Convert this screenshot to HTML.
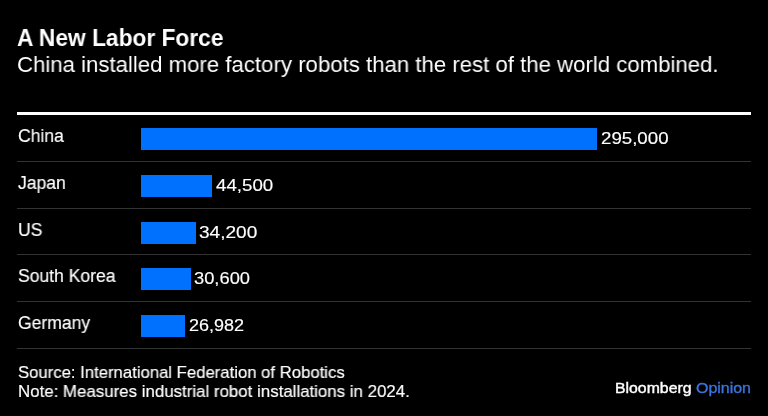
<!DOCTYPE html>
<html><head><meta charset="utf-8">
<style>
html,body{margin:0;padding:0;background:#000;}
body{width:768px;height:416px;position:relative;overflow:hidden;font-family:"Liberation Sans",sans-serif;color:#fff;}
.t{position:absolute;white-space:nowrap;line-height:1;transform-origin:0 0;will-change:transform;}
.topline{position:absolute;left:17px;width:734px;top:112px;height:3px;background:#fff;}
.sep{position:absolute;left:17px;width:734px;height:1px;background:#333;}
.bar{position:absolute;left:141px;height:22px;background:#0071ff;}
.lab{left:18px;font-size:18px;transform:scaleX(0.975);-webkit-text-stroke:0.15px #fff;}
.val{font-size:17px;-webkit-text-stroke:0.15px #fff;}
.src{left:18px;font-size:17px;-webkit-text-stroke:0.15px #fff;}
</style></head><body>
<div class="t" id="title" style="left:17px;top:26px;font-size:24px;font-weight:bold;transform:scaleX(0.948)">A New Labor Force</div>
<div class="t" id="sub" style="left:17px;top:53.6px;font-size:22.5px;transform:scaleX(0.986)">China installed more factory robots than the rest of the world combined.</div>
<div class="topline"></div>

<div class="t lab" id="l0" style="top:127px">China</div>
<div class="bar" style="top:128px;width:456px"></div>
<div class="t val" id="v0" style="left:601px;top:130px;transform:scaleX(1.099)">295,000</div>
<div class="sep" style="top:161px"></div>

<div class="t lab" id="l1" style="top:174px">Japan</div>
<div class="bar" style="top:175px;width:71px"></div>
<div class="t val" id="v1" style="left:216px;top:177px;transform:scaleX(1.10)">44,500</div>
<div class="sep" style="top:208px"></div>

<div class="t lab" id="l2" style="top:221px">US</div>
<div class="bar" style="top:222px;width:55px"></div>
<div class="t val" id="v2" style="left:199px;top:224px;transform:scaleX(1.12)">34,200</div>
<div class="sep" style="top:254px"></div>

<div class="t lab" id="l3" style="top:267px">South Korea</div>
<div class="bar" style="top:268px;width:50px"></div>
<div class="t val" id="v3" style="left:194px;top:270px;transform:scaleX(1.077)">30,600</div>
<div class="sep" style="top:301px"></div>

<div class="t lab" id="l4" style="top:314px">Germany</div>
<div class="bar" style="top:315px;width:44px"></div>
<div class="t val" id="v4" style="left:189px;top:317px;transform:scaleX(1.058)">26,982</div>
<div class="sep" style="top:348px"></div>

<div class="t src" id="src1" style="top:364px;transform:scaleX(0.982)">Source: International Federation of Robotics</div>
<div class="t src" id="src2" style="top:383px;transform:scaleX(0.992)">Note: Measures industrial robot installations in 2024.</div>
<div class="t" id="bb" style="left:615px;top:380px;font-size:15px;-webkit-text-stroke:0.4px #fff;transform:scaleX(1.055)">Bloomberg</div>
<div class="t" id="op" style="left:696px;top:380px;font-size:15px;color:#3a74de;-webkit-text-stroke:0.35px #3a74de;transform:scaleX(1.063)">Opinion</div>
</body></html>
